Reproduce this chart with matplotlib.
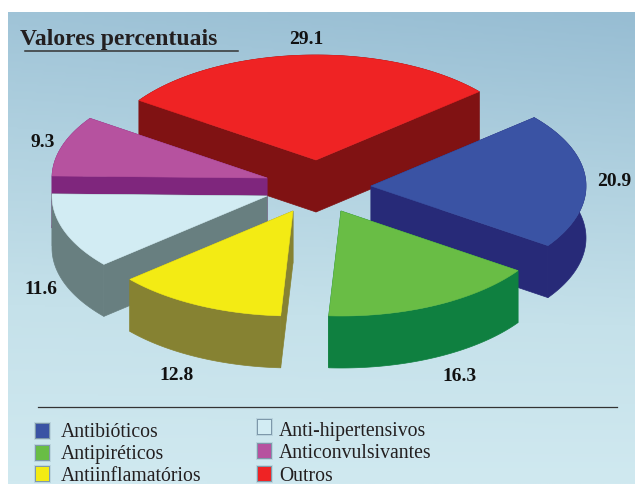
import numpy as np
import matplotlib
matplotlib.use("Agg")
import matplotlib.pyplot as plt
from matplotlib.patches import Polygon, Rectangle
from matplotlib.colors import LinearSegmentedColormap

# Share of each drug class, clockwise from the upper-left edge of "Outros"
categories = ["Outros", "Antibióticos", "Antipiréticos",
              "Antiinflamatórios", "Anti-hipertensivos", "Anticonvulsivantes"]
values = [29.1, 20.9, 16.3, 12.8, 11.6, 9.3]

top_colors = ["#EF2324", "#3A53A4", "#69BD45", "#F3EB14", "#D2ECF3", "#B6529F"]
side_colors = ["#801213", "#272A78", "#0F8040", "#868232", "#687F80", "#7F267D"]

# Pixel position of each wedge's apex after it has been pulled out of the pie
apexes = [(316, 161), (371, 187), (341, 212), (293, 212), (267, 197), (267, 179)]
draw_order = [0, 1, 5, 4, 2, 3]

label_positions = [(306, 40), (614, 182), (460, 377), (177, 376), (41, 290), (43, 143)]

legend_left = ["Antibióticos", "Antipiréticos", "Antiinflamatórios"]
legend_right = ["Anti-hipertensivos", "Anticonvulsivantes", "Outros"]

START_ANGLE = 145.4
RX, RY, DEPTH = 215, 105, 52
SERIF = ["Liberation Serif", "DejaVu Serif"]

fig = plt.figure(figsize=(6.35, 4.85), dpi=100, facecolor="white")
ax = fig.add_axes([0, 0, 1, 1])
ax.set_xlim(0, 635)
ax.set_ylim(485, 0)
ax.axis("off")

# Panel background: a soft vertical gradient, a touch darker towards the upper right
h, w = 236, 314
yy, xx = np.mgrid[0:1:h * 1j, 0:1:w * 1j]
shade = np.clip(yy * 1.0 + (1 - xx) * 0.12 * (1 - yy), 0, 1)
cmap = LinearSegmentedColormap.from_list("panel", ["#97BDD3", "#AFD0DF", "#C5E1EA", "#D0E9F0"])
ax.imshow(shade, extent=(8, 635, 485, 13), cmap=cmap, vmin=0, vmax=1,
          aspect="auto", interpolation="bilinear", zorder=0)
ax.set_xlim(0, 635)
ax.set_ylim(485, 0)


def arc(cx, cy, a0, a1, dy=0):
    t = np.radians(np.linspace(a0, a1, 80))
    return np.column_stack((cx + RX * np.cos(t), cy - RY * np.sin(t) + dy))


# Extruded wedges, walls first and then the lid of each one
spans = np.array(values) * 3.6
ends = START_ANGLE - np.cumsum(spans)
starts = ends + spans
for z, i in enumerate(draw_order):
    cx, cy = apexes[i]
    rim = arc(cx, cy, starts[i], ends[i])
    rim_low = arc(cx, cy, starts[i], ends[i], DEPTH)
    side = side_colors[i]
    kw = dict(facecolor=side, edgecolor=side, linewidth=0.5, zorder=2 + z)
    ax.add_patch(Polygon(np.vstack((rim, rim_low[::-1])), closed=True, **kw))
    for edge in (rim[0], rim[-1]):
        wall = [(cx, cy), edge, (edge[0], edge[1] + DEPTH), (cx, cy + DEPTH)]
        ax.add_patch(Polygon(wall, closed=True, **kw))
    ax.add_patch(Polygon(np.vstack(([(cx, cy)], rim)), closed=True,
                         facecolor=top_colors[i], edgecolor=top_colors[i],
                         linewidth=0.4, zorder=2 + z))

# Value labels
for value, (x, y) in zip(values, label_positions):
    ax.text(x, y, f"{value:.1f}", family=SERIF, fontweight="bold", fontsize=14,
            color="#111111", ha="center", va="center", zorder=20)

# Title and its rule
ax.text(20, 45, "Valores percentuais", family=SERIF, fontweight="bold", fontsize=17,
        color="#231F20", ha="left", va="baseline", zorder=20)
ax.plot([25, 238], [52, 52], color="#333333", lw=1.1, zorder=20)

# Legend
ax.plot([38, 617], [408, 408], color="#333333", lw=0.9, zorder=20)
legend_color = dict(zip(categories, top_colors))
rows = [(legend_left, 36, 61, [425, 447, 468], [437, 459, 481]),
        (legend_right, 258, 279, [421, 445, 468], [436, 458, 481])]
for names, sx, tx, box_tops, baselines in rows:
    for name, top, base in zip(names, box_tops, baselines):
        # Blurred shadow built from stacked translucent outlines
        for pad, alpha in ((2.2, 0.12), (1.4, 0.2), (0.7, 0.3)):
            ax.add_patch(Rectangle((sx - pad, top - pad), 13 + 2 * pad, 14 + 2 * pad,
                                   facecolor="#33506A", edgecolor="none", alpha=alpha, zorder=15))
        ax.add_patch(Rectangle((sx, top), 13, 14, facecolor=legend_color[name],
                               edgecolor="none", zorder=16))
        ax.text(tx, base, name, family=SERIF, fontsize=14.2, color="#231F20",
                ha="left", va="baseline", zorder=20)

fig.savefig("out.png", dpi=100)
